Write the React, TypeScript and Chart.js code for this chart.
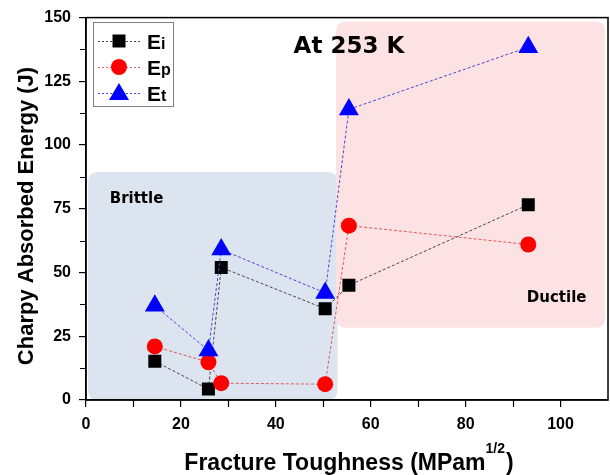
import React, { useEffect, useRef } from "react";
import { Chart, registerables } from "chart.js";

Chart.register(...registerables);

// Fracture toughness (MPa·m^1/2) of each specimen
const TOUGHNESS = [14.5, 25.8, 28.5, 50.4, 55.4, 93.2];
// Charpy energies (J): initiation, propagation, total
const E_I = [15.2, 4.3, 52, 35.8, 45, 76.6];
const E_P = [21, 14.8, 6.6, 6.2, 68.4, 61];
const E_T = [37, 19.4, 59, 42, 114, 138.4];

const X_TICKS = [0, 20, 40, 60, 80, 100];
const X_MINOR = [10, 30, 50, 70, 90];
const Y_TICKS = [0, 25, 50, 75, 100, 125, 150];
const Y_MINOR = [12.5, 37.5, 62.5, 87.5, 112.5, 137.5];

const SERIES = [
  { name: "E", sub: "i", values: E_I, color: "#000000", line: "#4a4a4a", shape: "rect", radius: 9.2 },
  { name: "E", sub: "p", values: E_P, color: "#ff0000", line: "#e05a5a", shape: "circle", radius: 8 },
  { name: "E", sub: "t", values: E_T, color: "#0000ff", line: "#4a4ad8", shape: "triangle", radius: 11.5 },
];

const ARIAL = "'Liberation Sans', Arial, sans-serif";
const VERDANA = "'DejaVu Sans', Verdana, sans-serif";

function roundRect(ctx: CanvasRenderingContext2D, x0: number, y0: number, x1: number, y1: number, r: number) {
  const x = Math.min(x0, x1), y = Math.min(y0, y1);
  const w = Math.abs(x1 - x0), h = Math.abs(y1 - y0);
  ctx.beginPath();
  ctx.moveTo(x + r, y);
  ctx.lineTo(x + w - r, y);
  ctx.quadraticCurveTo(x + w, y, x + w, y + r);
  ctx.lineTo(x + w, y + h - r);
  ctx.quadraticCurveTo(x + w, y + h, x + w - r, y + h);
  ctx.lineTo(x + r, y + h);
  ctx.quadraticCurveTo(x, y + h, x, y + h - r);
  ctx.lineTo(x, y + r);
  ctx.quadraticCurveTo(x, y, x + r, y);
  ctx.closePath();
}

const decorations = {
  id: "decorations",
  beforeDraw(chart: any) {
    const { ctx, scales } = chart;
    const xs = scales.x, ys = scales.y;
    ctx.save();
    // brittle regime
    ctx.fillStyle = "#dce4f0";
    roundRect(ctx, xs.getPixelForValue(0.45), ys.getPixelForValue(89.4), xs.getPixelForValue(53), ys.getPixelForValue(0), 10);
    ctx.fill();
    // ductile regime
    ctx.fillStyle = "#fce2e2";
    roundRect(ctx, xs.getPixelForValue(52.7), ys.getPixelForValue(148.5), xs.getPixelForValue(109.4), ys.getPixelForValue(28.3), 10);
    ctx.fill();
    ctx.restore();
  },
  afterDraw(chart: any) {
    const { ctx, scales, chartArea } = chart;
    const xs = scales.x, ys = scales.y;
    ctx.save();

    // frame
    ctx.strokeStyle = "#000";
    ctx.lineWidth = 1.5;
    ctx.strokeRect(chartArea.left, chartArea.top, chartArea.right - chartArea.left, chartArea.bottom - chartArea.top);

    // minor ticks
    ctx.lineWidth = 1.2;
    ctx.beginPath();
    X_MINOR.forEach((v) => {
      const px = Math.round(xs.getPixelForValue(v)) + 0.5;
      ctx.moveTo(px, chartArea.bottom);
      ctx.lineTo(px, chartArea.bottom + 7);
    });
    Y_MINOR.forEach((v) => {
      const py = Math.round(ys.getPixelForValue(v)) + 0.5;
      ctx.moveTo(chartArea.left, py);
      ctx.lineTo(chartArea.left - 6, py);
    });
    ctx.stroke();

    // region labels
    ctx.fillStyle = "#000";
    ctx.textBaseline = "middle";
    ctx.textAlign = "center";
    ctx.font = `bold 23px ${VERDANA}`;
    ctx.fillText("At 253 K", xs.getPixelForValue(55.4), ys.getPixelForValue(138.4));
    ctx.font = `bold 15px ${VERDANA}`;
    ctx.textAlign = "left";
    ctx.fillText("Brittle", xs.getPixelForValue(5), ys.getPixelForValue(78.8));
    ctx.fillText("Ductile", xs.getPixelForValue(92.9), ys.getPixelForValue(39.8));

    // axis titles
    ctx.font = `bold 22px ${ARIAL}`;
    ctx.save();
    ctx.translate(33, 216);
    ctx.rotate(-Math.PI / 2);
    ctx.textAlign = "center";
    ctx.textBaseline = "alphabetic";
    ctx.fillText("Charpy Absorbed Energy (J)", 0, 0);
    ctx.restore();

    const main = "Fracture Toughness (MPam";
    const sup = "1/2";
    const tail = ")";
    ctx.font = `bold 23px ${ARIAL}`;
    const wMain = ctx.measureText(main).width;
    const wTail = ctx.measureText(tail).width;
    ctx.font = `bold 14px ${ARIAL}`;
    const wSup = ctx.measureText(sup).width;
    const total = wMain + wSup + wTail + 1;
    let tx = 349 - total / 2;
    const base = 470;
    ctx.textAlign = "left";
    ctx.textBaseline = "alphabetic";
    ctx.font = `bold 23px ${ARIAL}`;
    ctx.fillText(main, tx, base);
    tx += wMain;
    ctx.font = `bold 14px ${ARIAL}`;
    ctx.fillText(sup, tx, base - 17);
    tx += wSup + 1;
    ctx.font = `bold 23px ${ARIAL}`;
    ctx.fillText(tail, tx, base);

    // legend
    const lx = 93.5, ly = 22.5, lw = 80, lh = 84;
    ctx.fillStyle = "#fff";
    ctx.fillRect(lx, ly, lw, lh);
    ctx.strokeStyle = "#808080";
    ctx.lineWidth = 1;
    ctx.strokeRect(lx, ly, lw, lh);
    const rows = [41, 67, 93];
    SERIES.forEach((s, i) => {
      const cy = rows[i];
      ctx.save();
      ctx.strokeStyle = s.line;
      ctx.setLineDash([2, 2]);
      ctx.beginPath();
      ctx.moveTo(98, cy + 0.5);
      ctx.lineTo(141, cy + 0.5);
      ctx.stroke();
      ctx.restore();
      ctx.fillStyle = s.color;
      ctx.beginPath();
      if (s.shape === "rect") {
        ctx.rect(119 - 6.5, cy - 6.5, 13, 13);
      } else if (s.shape === "circle") {
        ctx.arc(119, cy, 8, 0, Math.PI * 2);
      } else {
        ctx.moveTo(119, cy - 10);
        ctx.lineTo(129, cy + 7);
        ctx.lineTo(109, cy + 7);
        ctx.closePath();
      }
      ctx.fill();
      ctx.fillStyle = "#000";
      ctx.textAlign = "left";
      ctx.textBaseline = "alphabetic";
      ctx.font = `bold 21px ${ARIAL}`;
      ctx.fillText(s.name, 147, cy + 8);
      const we = ctx.measureText(s.name).width;
      ctx.font = `bold 16px ${ARIAL}`;
      ctx.fillText(s.sub, 147 + we, cy + 8);
    });

    ctx.restore();
  },
};

export default function App() {
  const canvasRef = useRef<HTMLCanvasElement | null>(null);

  useEffect(() => {
    document.body.style.margin = "0";
    const canvas = canvasRef.current;
    if (!canvas) return;

    const datasets = SERIES.map((s, i) => ({
      label: s.name + s.sub,
      data: TOUGHNESS.map((x, j) => ({ x, y: s.values[j] })),
      showLine: true,
      borderColor: s.line,
      borderWidth: 1,
      borderDash: [3, 2],
      pointStyle: s.shape,
      pointRadius: s.radius,
      pointBackgroundColor: s.color,
      pointBorderColor: s.color,
      pointBorderWidth: 0,
      order: 2 - i,
    }));

    const chart = new Chart(canvas, {
      type: "line",
      data: { datasets },
      plugins: [decorations],
      options: {
        responsive: false,
        animation: false,
        layout: { autoPadding: false, padding: { top: 14, right: 2, left: 0, bottom: 0 } },
        plugins: { legend: { display: false }, tooltip: { enabled: false } },
        scales: {
          x: {
            type: "linear",
            min: 0,
            max: 110,
            afterFit: (s: any) => { s.height = 75; s.paddingRight = 0; s.paddingLeft = 0; },
            afterBuildTicks: (s: any) => { s.ticks = X_TICKS.map((value) => ({ value })); },
            ticks: { color: "#000", font: { family: ARIAL, size: 16, weight: "bold" }, padding: 8, maxRotation: 0, autoSkip: false },
            grid: { drawOnChartArea: false, tickLength: 7, color: "#000", lineWidth: 1.2 },
            border: { color: "#000", width: 1.5 },
          },
          y: {
            type: "linear",
            min: 0,
            max: 150,
            afterFit: (s: any) => { s.width = 86; },
            afterBuildTicks: (s: any) => { s.ticks = Y_TICKS.map((value) => ({ value })); },
            ticks: { color: "#000", font: { family: ARIAL, size: 16, weight: "bold" }, padding: 8 },
            grid: { drawOnChartArea: false, tickLength: 7, color: "#000", lineWidth: 1.2 },
            border: { color: "#000", width: 1.5 },
          },
        },
      },
    });
    return () => chart.destroy();
  }, []);

  return (
    <div style={{ width: 610, height: 475 }}>
      <canvas ref={canvasRef} width={610} height={475} style={{ display: "block" }} />
    </div>
  );
}
